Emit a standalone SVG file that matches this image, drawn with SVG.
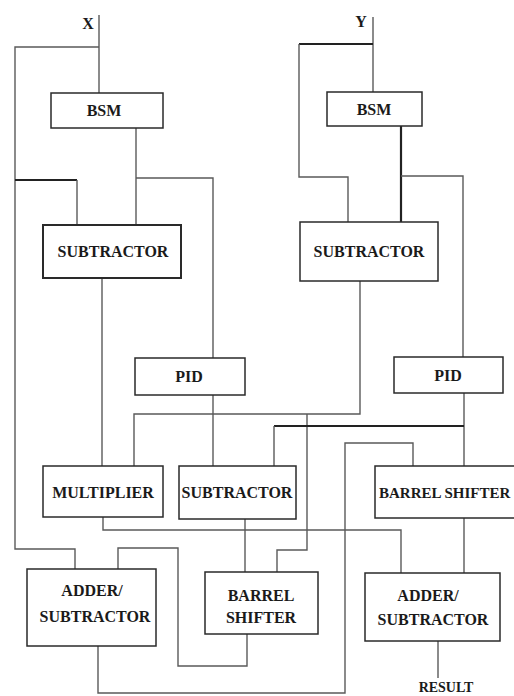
<svg xmlns="http://www.w3.org/2000/svg" width="514" height="696" viewBox="0 0 514 696">
<style>
.box{fill:#fff;stroke:#2a2a2a;stroke-width:1.5}
.t{font-family:"Liberation Serif","Times New Roman",serif;font-weight:bold;font-size:16px;fill:#1a1a1a;text-anchor:middle}
.w{fill:none;stroke:#5a5a5a;stroke-width:1.4}
.k{fill:none;stroke:#222;stroke-width:2.2}
</style>
<rect width="514" height="696" fill="#fff"/>
<g id="connectors">
<path class="w" d="M99,15 V93"/>
<path class="w" d="M99,47 H15 V549 H75 V569"/>
<path class="k" d="M15,180 H77"/>
<path class="w" d="M77,180 V225"/>
<path class="w" d="M136,128 V225"/>
<path class="w" d="M136,178 H213 V358"/>
<path class="w" d="M102,278 V466"/>
<path class="w" d="M213,395 V466"/>
<path class="w" d="M373,17 V92"/>
<path class="k" d="M373,44 H299"/>
<path class="w" d="M299,44 V177 H348 V222"/>
<path class="k" d="M401,126 V222"/>
<path class="w" d="M401,176 H463 V357"/>
<path class="w" d="M360,281 V414 H134 V466"/>
<path class="w" d="M307,414 V550 H277 V572"/>
<path class="w" d="M464,393 V466"/>
<path class="k" d="M464,426 H274"/>
<path class="w" d="M274,426 V466"/>
<path class="w" d="M103,517 V530 H401 V573"/>
<path class="w" d="M245,519 V572"/>
<path class="w" d="M247,634 V666 H178 V548 H118 V569"/>
<path class="w" d="M98,646 V693 H345 V443 H413 V466"/>
<path class="w" d="M464,518 V573"/>
<path class="w" d="M438,641 V678"/>
</g>
<g id="labels">
<text class="t" x="88" y="29">X</text>
<text class="t" x="361" y="27">Y</text>
<text class="t" x="446" y="692" style="font-size:14px">RESULT</text>
</g>
<g id="bsmX"><rect class="box" x="51" y="93" width="112" height="35"/><text class="t" x="104" y="116">BSM</text></g>
<g id="bsmY"><rect class="box" x="327" y="92" width="95" height="34"/><text class="t" x="374" y="115">BSM</text></g>
<g id="subX"><rect class="box" x="43" y="225" width="138" height="53" style="stroke-width:2"/><text class="t" x="113" y="257">SUBTRACTOR</text></g>
<g id="subY"><rect class="box" x="300" y="222" width="138" height="59"/><text class="t" x="369" y="257">SUBTRACTOR</text></g>
<g id="pidX"><rect class="box" x="135" y="358" width="110" height="37"/><text class="t" x="189" y="382">PID</text></g>
<g id="pidY"><rect class="box" x="394" y="357" width="109" height="36"/><text class="t" x="448" y="381">PID</text></g>
<g id="mult"><rect class="box" x="43" y="466" width="120" height="51"/><text class="t" x="103" y="498">MULTIPLIER</text></g>
<g id="sub2"><rect class="box" x="179" y="466" width="117" height="53"/><text class="t" x="237" y="498">SUBTRACTOR</text></g>
<g id="barrelR"><rect class="box" x="375" y="466" width="150" height="52"/><text class="t" x="379" y="498" style="text-anchor:start;font-size:15px">BARREL SHIFTER</text></g>
<g id="addL"><rect class="box" x="27" y="569" width="129" height="77"/><text class="t" x="92" y="596">ADDER/</text><text class="t" x="95" y="622">SUBTRACTOR</text></g>
<g id="barrelL"><rect class="box" x="205" y="572" width="113" height="62"/><text class="t" x="261" y="601">BARREL</text><text class="t" x="261" y="623">SHIFTER</text></g>
<g id="addR"><rect class="box" x="365" y="573" width="135" height="68"/><text class="t" x="428" y="601">ADDER/</text><text class="t" x="433" y="625">SUBTRACTOR</text></g>
</svg>
